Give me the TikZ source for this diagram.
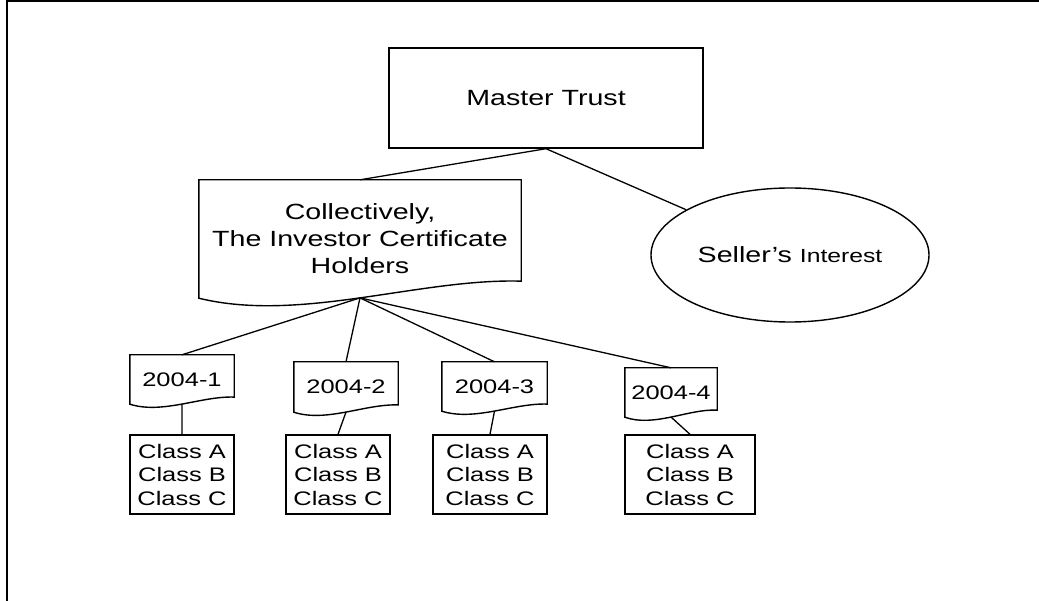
\documentclass[tikz,border=0pt]{standalone}
\usepackage{fontspec}
\usetikzlibrary{shapes.geometric,calc}
\newfontfamily\wf[FakeStretch=1.3]{Liberation Sans}
\newcommand\docoutline[1]{%
  \draw[outl] let \p1=(#1.north west), \p2=(#1.south east), \n1={\y1-\y2} in
    (\p1) -- (\x2,\y1) -- (\x2,{\y2+0.144*\n1})
    .. controls ({\x1+0.686*(\x2-\x1)},{\y2+0.169*\n1}) and ({\x1+0.314*(\x2-\x1)},{\y2-0.21*\n1}) ..
    (\x1,\y2) coordinate[pos=0.5] (#1-hub) -- cycle;}
\begin{document}
\begin{tikzpicture}[x=1pt,y=-1pt,
  outl/.style={line width=1.4pt, line join=miter},
  conn/.style={line width=1.3pt},
  boxnode/.style={draw, line width=1.4pt, rectangle, inner sep=0pt, align=center},
  docnode/.style={draw=none, rectangle, inner sep=0pt, align=center},
  bigtxt/.style={font=\wf\fontsize{22}{27}\selectfont},
  smalltxt/.style={font=\wf\fontsize{19.6}{23.5}\selectfont}]
\useasboundingbox (0,0) rectangle (1039,601);
% frame
\draw[line width=1.8pt] (7.3,601) -- (7.3,1.3) -- (1039,1.3);
% master trust
\node[boxnode, bigtxt, minimum width=314pt, minimum height=100pt] (mt) at (546,98) {Master Trust};
% collectively document
\node[docnode, bigtxt, minimum width=322pt, minimum height=118pt] (d0) at (360,239) {Collectively,\\The Investor Certificate\\Holders};
\docoutline{d0}
% seller's interest
\node[draw, ellipse, line width=1.4pt, inner sep=0pt, minimum width=278pt, minimum height=134pt] (si) at (790,255)
  {{\wf\fontsize{22}{26}\selectfont Seller’s }{\wf\fontsize{19}{26}\selectfont Interest}};
% series documents
\node[docnode, smalltxt, minimum width=104pt, minimum height=49pt] (d1) at (182,379.5) {2004-1};
\node[docnode, smalltxt, minimum width=104pt, minimum height=50pt] (d2) at (346,387) {2004-2};
\node[docnode, smalltxt, minimum width=105pt, minimum height=49pt] (d3) at (494.5,386.5) {2004-3};
\node[docnode, smalltxt, minimum width=92pt, minimum height=49pt] (d4) at (671,392.5) {2004-4};
\docoutline{d1}
\docoutline{d2}
\docoutline{d3}
\docoutline{d4}
% class boxes
\node[boxnode, smalltxt, minimum width=104pt, minimum height=79pt] (c1) at (182,474.5) {Class A\\Class B\\Class C};
\node[boxnode, smalltxt, minimum width=104pt, minimum height=79pt] (c2) at (338,474.5) {Class A\\Class B\\Class C};
\node[boxnode, smalltxt, minimum width=114pt, minimum height=79pt] (c3) at (490,474.5) {Class A\\Class B\\Class C};
\node[boxnode, smalltxt, minimum width=130pt, minimum height=79pt] (c4) at (690,474.5) {Class A\\Class B\\Class C};
% connectors
\draw[conn] (mt.south) -- (d0.north);
\draw[conn] (mt.south) -- (si);
\draw[conn] (d0-hub) -- (d1.north);
\draw[conn] (d0-hub) -- (d2.north);
\draw[conn] (d0-hub) -- (d3.north);
\draw[conn] (d0-hub) -- (d4.north);
\draw[conn] (d1-hub) -- (c1.north);
\draw[conn] (d2-hub) -- (c2.north);
\draw[conn] (d3-hub) -- (c3.north);
\draw[conn] (d4-hub) -- (c4.north);
\end{tikzpicture}
\end{document}
